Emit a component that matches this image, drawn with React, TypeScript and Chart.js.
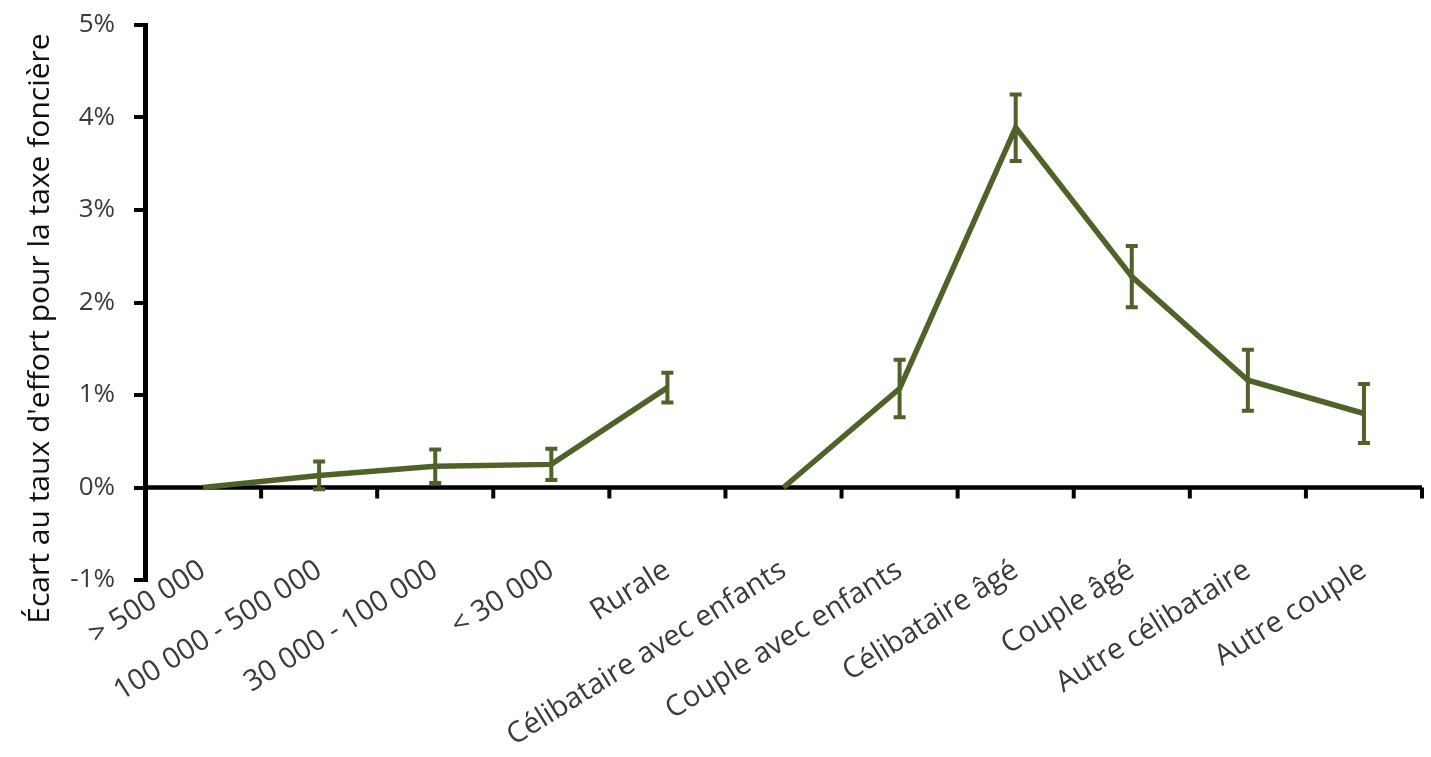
import React, { useEffect, useRef } from "react";
import { Chart, registerables } from "chart.js";

Chart.register(...registerables);

const categories = [
  "> 500 000",
  "100 000 - 500 000",
  "30 000 - 100 000",
  "< 30 000",
  "Rurale",
  "Célibataire avec enfants",
  "Couple avec enfants",
  "Célibataire âgé",
  "Couple âgé",
  "Autre célibataire",
  "Autre couple",
];

// Series 1: urban unit size (first 5 categories)
const sizeValues = [0, 0.13, 0.23, 0.25, 1.08];
const sizeErrors = [0, 0.15, 0.18, 0.17, 0.16];

// Series 2: household type (last 6 categories)
const householdValues = [0, 1.07, 3.89, 2.28, 1.16, 0.8];
const householdErrors = [0, 0.31, 0.36, 0.33, 0.33, 0.32];

const yTicks = [-1, 0, 1, 2, 3, 4, 5];
const yTitle = "Écart au taux d'effort pour la taxe foncière";

const GREEN = "#4F6228";
const FONT = "'Open Sans', sans-serif";

const App: React.FC = () => {
  const ref = useRef<HTMLCanvasElement | null>(null);

  useEffect(() => {
    if (!ref.current) return;
    const n = categories.length;
    const pad = (arr: number[], before: number) => {
      const out: (number | null)[] = [];
      for (let i = 0; i < n; i++) out.push(null);
      arr.forEach((v, i) => (out[before + i] = v));
      return out;
    };
    const d1 = pad(sizeValues, 0);
    const e1 = pad(sizeErrors, 0);
    const d2 = pad(householdValues, sizeValues.length);
    const e2 = pad(householdErrors, sizeValues.length);

    const zeroAxis = {
      id: "zeroAxis",
      beforeDatasetsDraw(chart: any) {
        const { ctx, chartArea, scales } = chart;
        const x = scales.x;
        const y = scales.y;
        const y0 = y.getPixelForValue(0);
        ctx.save();
        ctx.strokeStyle = "#000";
        ctx.lineWidth = 4.5;
        ctx.beginPath();
        ctx.moveTo(chartArea.left, y0);
        ctx.lineTo(chartArea.right, y0);
        ctx.stroke();
        const step = x.getPixelForValue(1) - x.getPixelForValue(0);
        ctx.lineWidth = 4;
        for (let i = 0; i <= n; i++) {
          const px = x.getPixelForValue(i) - step / 2;
          ctx.beginPath();
          ctx.moveTo(px, y0);
          ctx.lineTo(px, y0 + 11);
          ctx.stroke();
        }
        ctx.restore();
      },
    };

    const yTitlePlugin = {
      id: "yTitlePlugin",
      afterDraw(chart: any) {
        const { ctx, chartArea } = chart;
        ctx.save();
        ctx.translate(chartArea.left - 105, (chartArea.top + chartArea.bottom) / 2 + 26);
        ctx.rotate(-Math.PI / 2);
        ctx.textAlign = "center";
        ctx.textBaseline = "middle";
        ctx.fillStyle = "#111";
        ctx.font = `30px ${FONT}`;
        ctx.fillText(yTitle, 0, 0);
        ctx.restore();
      },
    };

    const errorBars = {
      id: "errorBars",
      afterDatasetsDraw(chart: any) {
        const { ctx, scales } = chart;
        const y = scales.y;
        const x = scales.x;
        const errs = [e1, e2];
        const vals = [d1, d2];
        ctx.save();
        ctx.strokeStyle = GREEN;
        ctx.lineWidth = 4;
        for (let s = 0; s < 2; s++) {
          for (let i = 0; i < n; i++) {
            const v = vals[s][i];
            const e = errs[s][i];
            if (v === null || e === null || e === 0) continue;
            const px = x.getPixelForValue(i);
            const top = y.getPixelForValue((v as number) + (e as number));
            const bot = y.getPixelForValue((v as number) - (e as number));
            ctx.beginPath();
            ctx.moveTo(px, top);
            ctx.lineTo(px, bot);
            ctx.moveTo(px - 6, top);
            ctx.lineTo(px + 6, top);
            ctx.moveTo(px - 6, bot);
            ctx.lineTo(px + 6, bot);
            ctx.stroke();
          }
        }
        ctx.restore();
      },
    };

    const chart = new Chart(ref.current, {
      type: "line",
      data: {
        labels: categories,
        datasets: [
          {
            data: d1,
            borderColor: GREEN,
            backgroundColor: GREEN,
            borderWidth: 5.5,
            pointRadius: 0,
            tension: 0,
            spanGaps: false,
          },
          {
            data: d2,
            borderColor: GREEN,
            backgroundColor: GREEN,
            borderWidth: 5.5,
            pointRadius: 0,
            tension: 0,
            spanGaps: false,
          },
        ],
      },
      options: {
        animation: false,
        responsive: false,
        layout: { padding: { top: 25, right: 9, left: 0, bottom: 0 } },
        plugins: {
          legend: { display: false },
          tooltip: { enabled: false },
        },
        scales: {
          x: {
            type: "category",
            offset: true,
            grid: { display: false, drawTicks: false },
            border: { display: false },
            ticks: {
              minRotation: 32,
              maxRotation: 32,
              autoSkip: false,
              padding: -27,
              color: "#3a3a3a",
              font: { family: FONT, size: 29 },
            },
            afterFit(scale: any) {
              scale.height = 177;
              // let the rotated labels rise slightly above the plot bottom
              scale._computeLabelArea = () => undefined;
            },
          },
          y: {
            min: -1,
            max: 5,
            afterBuildTicks(scale: any) {
              scale.ticks = yTicks.map((v) => ({ value: v }));
            },
            border: { display: true, color: "#000", width: 5 },
            grid: {
              drawOnChartArea: false,
              drawTicks: true,
              tickLength: 11,
              color: "#000",
              lineWidth: 4,
            },
            ticks: {
              padding: 19,
              color: "#3a3a3a",
              font: { family: FONT, size: 26 },
              callback: (v: any) => `${v}%`,
            },
            afterFit(scale: any) {
              scale.width = 145;
              scale.paddingTop = 0;
              scale.paddingBottom = 0;
            },
          },
        },
      },
      plugins: [zeroAxis, errorBars, yTitlePlugin],
    });
    return () => chart.destroy();
  }, []);

  return (
    <div style={{ position: "absolute", left: 0, top: 0, width: 1431, height: 757, background: "#fff" }}>
      <canvas ref={ref} width={1431} height={757} style={{ width: 1431, height: 757, display: "block" }} />
    </div>
  );
};

export default App;
